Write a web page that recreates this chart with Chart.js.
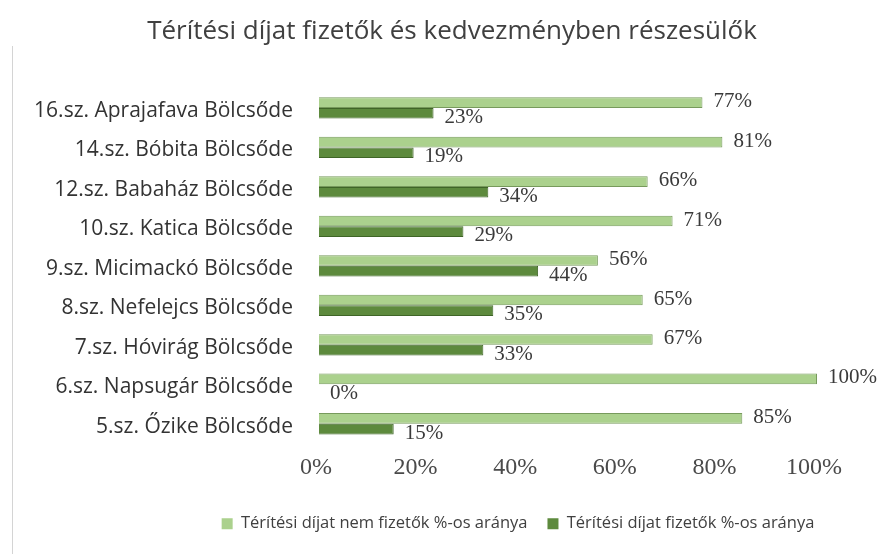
<!DOCTYPE html>
<html>
<head>
<meta charset="utf-8">
<script src="https://cdn.jsdelivr.net/npm/chart.js@4"></script>
<style>
    html, body { margin: 0; padding: 0; background: #fff; }
    #wrap { width: 881px; height: 554px; }
</style>
</head>
<body>
<div id="wrap"><canvas id="chart" width="881" height="554"></canvas></div>
<script>
const categories = [
    "16.sz. Aprajafava Bölcsőde",
    "14.sz. Bóbita Bölcsőde",
    "12.sz. Babaház Bölcsőde",
    "10.sz. Katica Bölcsőde",
    "9.sz. Micimackó Bölcsőde",
    "8.sz. Nefelejcs Bölcsőde",
    "7.sz. Hóvirág Bölcsőde",
    "6.sz. Napsugár Bölcsőde",
    "5.sz. Őzike Bölcsőde"
];
const nemFizetok = [77, 81, 66, 71, 56, 65, 67, 100, 85];
const fizetok = [23, 19, 34, 29, 44, 35, 33, 0, 15];
const xTicks = [0, 20, 40, 60, 80, 100];

const seriesNames = [
    "Térítési díjat nem fizetők %-os aránya",
    "Térítési díjat fizetők %-os aránya"
];

// value labels to the right of each bar
const valueLabels = {
    id: "valueLabels",
    afterDatasetsDraw(chart) {
        const ctx = chart.ctx;
        ctx.save();
        ctx.font = "21px 'Liberation Serif', 'DejaVu Serif', serif";
        ctx.fillStyle = "#3a3a3a";
        ctx.textAlign = "left";
        ctx.textBaseline = "middle";
        chart.data.datasets.forEach((ds, i) => {
            const meta = chart.getDatasetMeta(i);
            meta.data.forEach((bar, j) => {
                ctx.fillText(ds.data[j] + "%", bar.x + 11, bar.y + (i === 0 ? -1 : 4));
            });
        });
        ctx.restore();
    }
};

// thin frame line on the left, and title / legend centred like the source
const frameLine = {
    id: "frameLine",
    beforeDraw(chart) {
        if (chart.titleBlock) {
            chart.titleBlock.left = 87;
            chart.titleBlock.right = 817;
        }
        if (chart.legend) {
            chart.legend.left = 155;
            chart.legend.right = 881;
        }
        const ctx = chart.ctx;
        ctx.save();
        ctx.strokeStyle = "#d4d4d4";
        ctx.lineWidth = 1;
        ctx.beginPath();
        ctx.moveTo(12.5, 46);
        ctx.lineTo(12.5, 554);
        ctx.stroke();
        ctx.restore();
    }
};

function initChart() {
    const ctx = document.getElementById("chart").getContext("2d");
    new Chart(ctx, {
        type: "bar",
        data: {
            labels: categories,
            datasets: [
                {
                    label: seriesNames[0],
                    data: nemFizetok,
                    backgroundColor: "#abd18d",
                    borderColor: "#779a5c",
                    borderWidth: 1,
                    categoryPercentage: 0.54,
                    barPercentage: 1
                },
                {
                    label: seriesNames[1],
                    data: fizetok,
                    backgroundColor: "#5d8a3d",
                    borderColor: "#3f6527",
                    borderWidth: 1,
                    categoryPercentage: 0.54,
                    barPercentage: 1
                }
            ]
        },
        options: {
            indexAxis: "y",
            responsive: false,
            animation: false,
            layout: { padding: { left: 0, right: 64, top: 0, bottom: 12 } },
            plugins: {
                title: {
                    display: true,
                    text: "Térítési díjat fizetők és kedvezményben részesülők",
                    color: "#404040",
                    font: { family: "'Open Sans', sans-serif", size: 26, weight: "normal" },
                    padding: { top: 16, bottom: 41 }
                },
                legend: {
                    position: "bottom",
                    labels: {
                        color: "#404040",
                        font: { family: "'Open Sans', sans-serif", size: 16.5 },
                        boxWidth: 11,
                        boxHeight: 11,
                        padding: 20,
                        generateLabels(chart) {
                            return chart.data.datasets.map((ds, i) => ({
                                text: ds.label,
                                fillStyle: ds.backgroundColor,
                                strokeStyle: ds.backgroundColor,
                                lineWidth: 0,
                                fontColor: "#404040",
                                datasetIndex: i
                            }));
                        }
                    }
                },
                tooltip: { enabled: false }
            },
            scales: {
                x: {
                    min: 0,
                    max: 100,
                    afterBuildTicks(scale) {
                        scale.ticks = xTicks.map(v => ({ value: v }));
                    },
                    afterFit(scale) { scale.height = 52; },
                    ticks: {
                        color: "#4a4a4a",
                        font: { family: "'Liberation Serif', serif", size: 24 },
                        padding: 2,
                        labelOffset: -3,
                        callback: (v) => v + "%"
                    },
                    grid: { display: false },
                    border: { display: false }
                },
                y: {
                    afterFit(scale) { scale.width = 319; },
                    ticks: {
                        color: "#333333",
                        font: { family: "'Open Sans', sans-serif", size: 21 },
                        padding: 18,
                        labelOffset: 3
                    },
                    grid: { display: false },
                    border: { display: false }
                }
            }
        },
        plugins: [valueLabels, frameLine]
    });
}

window.addEventListener("DOMContentLoaded", initChart);
</script>
</body>
</html>
